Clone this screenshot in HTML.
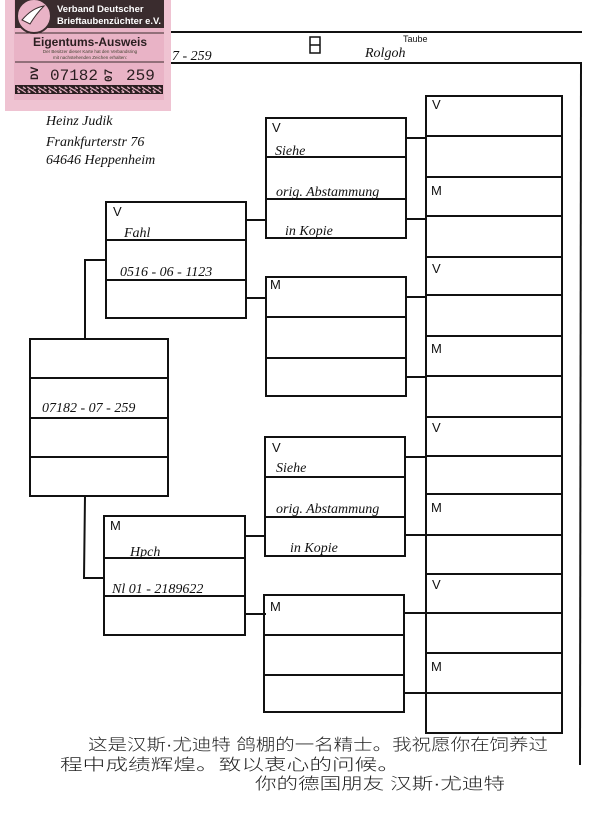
<!DOCTYPE html>
<html><head><meta charset="utf-8"><style>
html,body{margin:0;padding:0;background:#fff;}
svg{display:block;}
.h{font-family:"Liberation Serif",serif;font-style:italic;font-size:14px;fill:#111;}
.l{font-family:"Liberation Sans",sans-serif;font-size:13px;fill:#111;}
.c{font-family:"Liberation Sans","Noto Sans CJK SC",sans-serif;font-size:16px;font-weight:300;fill:#222;}
</style></head><body>
<svg width="600" height="826" viewBox="0 0 600 826" xmlns="http://www.w3.org/2000/svg">
<rect width="600" height="826" fill="#fff"/>
<g stroke="#111" stroke-width="2" fill="none">
<line x1="170" y1="32" x2="582" y2="32"/>
<line x1="170" y1="63" x2="582" y2="63"/>
<line x1="581" y1="63" x2="580" y2="765"/>
<rect x="30" y="339" width="138" height="157"/>
<line x1="30" y1="378" x2="168" y2="378"/><line x1="30" y1="418" x2="168" y2="418"/><line x1="30" y1="457" x2="168" y2="457"/>
<polyline points="106,260 85,260 85,339"/>
<polyline points="85,496 84,578 104,578"/>
<rect x="106" y="202" width="140" height="116"/>
<line x1="106" y1="240" x2="246" y2="240"/><line x1="106" y1="280" x2="246" y2="280"/>
<line x1="246" y1="220" x2="266" y2="220"/><line x1="246" y1="298" x2="266" y2="298"/>
<rect x="104" y="516" width="141" height="119"/>
<line x1="104" y1="558" x2="245" y2="558"/><line x1="104" y1="596" x2="245" y2="596"/>
<line x1="245" y1="536" x2="266" y2="536"/><line x1="245" y1="614" x2="266" y2="614"/>
<rect x="266" y="118" width="140" height="120"/><line x1="266" y1="157" x2="406" y2="157"/><line x1="266" y1="199" x2="406" y2="199"/>
<rect x="266" y="277" width="140" height="119"/><line x1="266" y1="317" x2="406" y2="317"/><line x1="266" y1="358" x2="406" y2="358"/>
<rect x="265" y="437" width="140" height="119"/><line x1="265" y1="477" x2="405" y2="477"/><line x1="265" y1="517" x2="405" y2="517"/>
<rect x="264" y="595" width="140" height="117"/><line x1="264" y1="635" x2="404" y2="635"/><line x1="264" y1="675" x2="404" y2="675"/>
<line x1="406" y1="138" x2="426" y2="138"/><line x1="406" y1="219" x2="426" y2="219"/>
<line x1="406" y1="297" x2="426" y2="297"/><line x1="406" y1="377" x2="426" y2="377"/>
<line x1="405" y1="457" x2="425" y2="457"/><line x1="405" y1="535" x2="425" y2="535"/>
<line x1="404" y1="613" x2="425" y2="613"/><line x1="404" y1="693" x2="425" y2="693"/>
<rect x="426" y="96" width="136" height="637"/>
<line x1="426" y1="136" x2="562" y2="136"/><line x1="426" y1="177" x2="562" y2="177"/>
<line x1="426" y1="216" x2="562" y2="216"/><line x1="426" y1="257" x2="562" y2="257"/>
<line x1="426" y1="295" x2="562" y2="295"/><line x1="426" y1="336" x2="562" y2="336"/>
<line x1="426" y1="376" x2="562" y2="376"/><line x1="426" y1="417" x2="562" y2="417"/>
<line x1="426" y1="456" x2="562" y2="456"/><line x1="426" y1="494" x2="562" y2="494"/>
<line x1="426" y1="535" x2="562" y2="535"/><line x1="426" y1="574" x2="562" y2="574"/>
<line x1="426" y1="613" x2="562" y2="613"/><line x1="426" y1="653" x2="562" y2="653"/>
<line x1="426" y1="693" x2="562" y2="693"/>
<rect x="310" y="37" width="10" height="16" stroke-width="1.5"/><line x1="310" y1="45" x2="320" y2="45" stroke-width="1.5"/>
</g>
<text x="403" y="42" font-family="Liberation Sans,sans-serif" font-size="9" fill="#111">Taube</text>
<text x="365" y="57" class="h" font-size="11">Rolgoh</text>
<text x="172" y="60" class="h" font-size="15">7 - 259</text>
<text x="113" y="216" class="l">V</text><text x="272" y="132" class="l">V</text><text x="270" y="289" class="l">M</text>
<text x="272" y="452" class="l">V</text><text x="270" y="611" class="l">M</text><text x="110" y="530" class="l">M</text>
<text x="432" y="109" class="l">V</text><text x="431" y="195" class="l">M</text><text x="432" y="273" class="l">V</text><text x="431" y="353" class="l">M</text>
<text x="432" y="432" class="l">V</text><text x="431" y="512" class="l">M</text><text x="432" y="589" class="l">V</text><text x="431" y="671" class="l">M</text>
<text x="124" y="237" class="h">Fahl</text>
<text x="120" y="276" class="h">0516 - 06 - 1123</text>
<text x="42" y="412" class="h">07182 - 07 - 259</text>
<text x="130" y="556" class="h">Hpch</text>
<text x="112" y="593" class="h">Nl 01 - 2189622</text>
<text x="275" y="155" class="h" font-size="12">Siehe</text>
<text x="276" y="196" class="h" font-size="13">orig. Abstammung</text>
<text x="285" y="235" class="h">in Kopie</text>
<text x="276" y="472" class="h" font-size="12">Siehe</text>
<text x="276" y="513" class="h" font-size="13">orig. Abstammung</text>
<text x="290" y="552" class="h">in Kopie</text>
<text x="46" y="125" class="h" font-size="12">Heinz Judik</text>
<text x="46" y="146" class="h" font-size="12">Frankfurterstr 76</text>
<text x="46" y="164" class="h" font-size="12">64646 Heppenheim</text>
<text x="88" y="750" class="c" textLength="460" lengthAdjust="spacingAndGlyphs">这是汉斯·尤迪特 鸽棚的一名精士。我祝愿你在饲养过</text>
<text x="60" y="770" class="c" textLength="340" lengthAdjust="spacingAndGlyphs">程中成绩辉煌。致以衷心的问候。</text>
<text x="255" y="789" class="c" textLength="250" lengthAdjust="spacingAndGlyphs">你的德国朋友 汉斯·尤迪特</text>
<rect x="5" y="0" width="166" height="111" fill="#efc3d2"/>
<rect x="14" y="0" width="150" height="100" fill="#e9b3c6"/>
<rect x="15" y="0" width="149" height="28" fill="#3a2c2e"/>
<circle cx="34" cy="16" r="17" fill="#e9b3c6" stroke="#3a2c2e" stroke-width="2"/>
<path d="M22 20 Q32 8 44 6 Q36 14 30 24 Z" fill="#fff" stroke="#3a2c2e"/>
<text x="57" y="12" font-family="Liberation Sans,sans-serif" font-weight="bold" font-size="9.5" fill="#fff">Verband Deutscher</text>
<text x="57" y="24" font-family="Liberation Sans,sans-serif" font-weight="bold" font-size="9.5" fill="#fff" textLength="104" lengthAdjust="spacingAndGlyphs">Brieftaubenzüchter e.V.</text>
<line x1="15" y1="33" x2="164" y2="33" stroke="#3a2c2e" stroke-width="1"/>
<text x="90" y="46" text-anchor="middle" font-family="Liberation Sans,sans-serif" font-weight="bold" font-size="12" fill="#2a1e20">Eigentums-Ausweis</text>
<text x="90" y="53" text-anchor="middle" font-family="Liberation Sans,sans-serif" font-size="4.5" fill="#443">Der Besitzer dieser Karte hat den Verbandsring</text>
<text x="90" y="59" text-anchor="middle" font-family="Liberation Sans,sans-serif" font-size="4.5" fill="#443">mit nachstehenden Zeichen erhalten:</text>
<line x1="15" y1="62" x2="164" y2="62" stroke="#3a2c2e" stroke-width="1"/>
<text x="38" y="80" transform="rotate(-90 38 80)" font-family="Liberation Mono,monospace" font-weight="bold" font-size="11" fill="#2a1e20">DV</text>
<text x="50" y="80" font-family="Liberation Mono,monospace" font-size="16" fill="#2a1e20">07182</text>
<text x="112" y="82" transform="rotate(-90 112 82)" font-family="Liberation Mono,monospace" font-weight="bold" font-size="11" fill="#2a1e20">07</text>
<text x="126" y="80" font-family="Liberation Mono,monospace" font-size="16" fill="#2a1e20">259</text>
<rect x="15" y="85" width="148" height="9" fill="#2a1e20"/>
<text x="16" y="93" font-family="Liberation Mono,monospace" font-size="9" fill="#e9b3c6" textLength="146" lengthAdjust="spacingAndGlyphs">ℵℵℵℵℵℵℵℵℵℵℵℵℵℵ</text>
</svg>
</body></html>
